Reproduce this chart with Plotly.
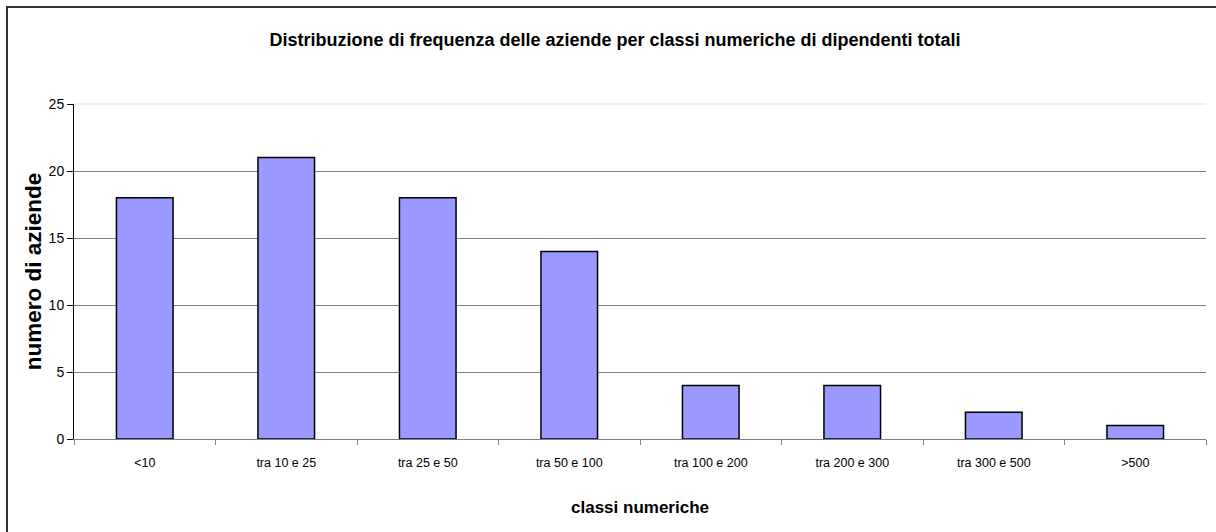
import plotly.graph_objects as go

# Classi numeriche di dipendenti e numero di aziende per classe
classi = ["<10", "tra 10 e 25", "tra 25 e 50", "tra 50 e 100",
          "tra 100 e 200", "tra 200 e 300", "tra 300 e 500", ">500"]
num_aziende = [18, 21, 18, 14, 4, 4, 2, 1]
y_ticks = [0, 5, 10, 15, 20, 25]

W, H = 1216, 532
L, R, T, B = 74, 10, 104, 93
FONT = "Liberation Sans, Arial, sans-serif"

fig = go.Figure(
    go.Bar(
        x=classi,
        y=num_aziende,
        width=0.4,
        marker=dict(color="#9999FF", line=dict(color="#000000", width=1.5)),
        hoverinfo="x+y",
    )
)

pw, ph = W - L - R, H - T - B

fig.update_layout(
    width=W,
    height=H,
    margin=dict(l=L, r=R, t=T, b=B),
    paper_bgcolor="white",
    plot_bgcolor="white",
    showlegend=False,
    font=dict(family=FONT, color="#000000"),
    title=dict(
        text="<b>Distribuzione di frequenza delle aziende per classi numeriche di dipendenti totali</b>",
        x=615 / W,
        xanchor="center",
        xref="container",
        y=1 - 40 / H,
        yref="container",
        yanchor="middle",
        font=dict(size=18, family=FONT, color="#000000"),
    ),
    xaxis=dict(
        type="category",
        showline=True,
        linecolor="#808080",
        linewidth=1,
        ticks="outside",
        tickson="boundaries",
        ticklen=5,
        tickcolor="#808080",
        tickfont=dict(size=12.5, family=FONT),
        ticklabelstandoff=12,
        showgrid=False,
        title=dict(text="<b>classi numeriche</b>", font=dict(size=17, family=FONT), standoff=32),
    ),
    yaxis=dict(
        range=[0, 25],
        tickvals=y_ticks,
        showline=True,
        linecolor="#000000",
        linewidth=1,
        ticks="outside",
        ticklen=6,
        tickcolor="#000000",
        tickfont=dict(size=14, family=FONT),
        showgrid=True,
        gridcolor="#808080",
        gridwidth=1,
        zeroline=False,
        title=dict(text="<b>numero di aziende</b>", font=dict(size=22.5, family=FONT), standoff=0),
    ),
    shapes=[
        # bordo superiore dell'area del grafico
        dict(type="line", xref="paper", yref="paper", x0=0, x1=1, y0=1, y1=1,
             line=dict(color="#e0e0e0", width=1), layer="below"),
        # cornice del grafico
        dict(type="rect", xref="paper", yref="paper",
             x0=-(L - 7) / pw, x1=1 + (R + 20) / pw,
             y0=-(B + 20) / ph, y1=1 + (T - 7) / ph,
             line=dict(color="#333333", width=2), fillcolor="rgba(0,0,0,0)",
             layer="below"),
    ],
)

fig.write_html("out.html")
